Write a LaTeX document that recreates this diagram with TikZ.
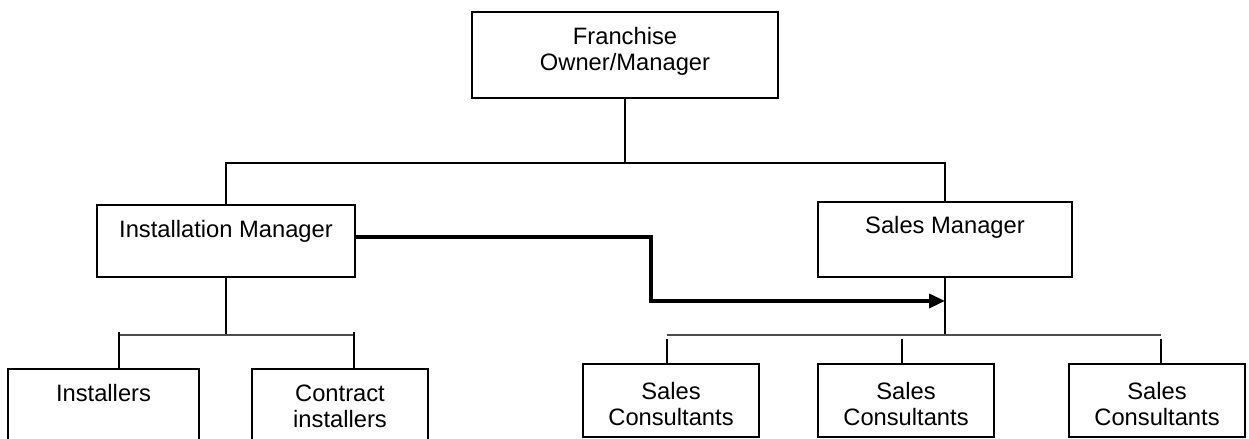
\documentclass[tikz,border=0pt]{standalone}
\usepackage{fontspec}
\setmainfont{Liberation Sans}
\usetikzlibrary{positioning,arrows.meta}

\begin{document}
\begin{tikzpicture}[
  box/.style={draw,line width=1.1pt,inner sep=0pt,minimum height=1.46cm},
  txt/.style={inner sep=0pt,align=center,font=\fontsize{13.5pt}{15pt}\selectfont},
  link/.style={line width=0.6pt},
  bus/.style={line width=0.7pt,black!70},
  flow/.style={line width=2pt,-{Triangle[length=0.32cm,width=0.28cm]}}]
  \useasboundingbox (0,0) rectangle (24.98,-8.78);
  \node[box,minimum width=6.12cm,minimum height=1.72cm] (own) at (12.50,-1.10) {};
  \node[txt,below=0.32cm of own.north] (owntxt) {Franchise\\Owner/Manager};
  \node[box,minimum width=5.16cm,minimum height=1.44cm] (inst) at (4.52,-4.82) {};
  \node[txt,below=0.32cm of inst.north] (insttxt) {Installation Manager};
  \node[box,minimum width=5.08cm,minimum height=1.50cm] (sales) at (18.90,-4.79) {};
  \node[txt,below=0.30cm of sales.north] (salestxt) {Sales Manager};
  \node[box,minimum width=3.82cm] (fitters) at (2.07,-8.11) {};
  \node[txt,below=0.32cm of fitters.north] (fitterstxt) {Installers};
  \node[box,minimum width=3.52cm] (contract) at (6.80,-8.11) {};
  \node[txt,below=0.33cm of contract.north] (contracttxt) {Contract\\installers};
  \foreach \n/\x in {sc1/13.42,sc2/18.12,sc3/23.14} {
    \node[box,minimum width=3.52cm] (\n) at (\x,-8.01) {};
    \node[txt,below=0.38cm of \n.north] (\n txt) {Sales\\Consultants};
  }
  \coordinate (hub) at (12.42,-3.26);
  \draw[link] (own.south) -- (own.south |- hub);
  \draw[line width=0.8pt] (inst.north) |- (hub) -| (sales.north);
  \coordinate (ibusL) at (2.38,-6.70);
  \coordinate (ibusR) at (7.08,-6.70);
  \draw[link] (inst.south) -- (inst.south |- ibusL);
  \draw[bus] (ibusL) -- (ibusR);
  \draw[link] ([yshift=0.06cm]ibusL) -- (ibusL |- fitters.north);
  \draw[link] ([yshift=0.06cm]ibusR) -- (ibusR |- contract.north);
  \coordinate (sbusL) at (13.34,-6.70);
  \coordinate (sbusM) at (18.04,-6.70);
  \coordinate (sbusR) at (23.22,-6.70);
  \draw[link] (sales.south) -- (sales.south |- sbusL);
  \draw[bus] (sbusL) -- (sbusR);
  \foreach \c/\n in {sbusL/sc1,sbusM/sc2,sbusR/sc3}
    \draw[link] ([yshift=-0.07cm]\c) -- (\c |- \n.north);
  \coordinate[below=0.46cm of sales.south] (tap);
  \draw[flow] ([yshift=0.08cm]inst.east) -- ++(5.90,0) |- (tap);
\end{tikzpicture}
\end{document}
